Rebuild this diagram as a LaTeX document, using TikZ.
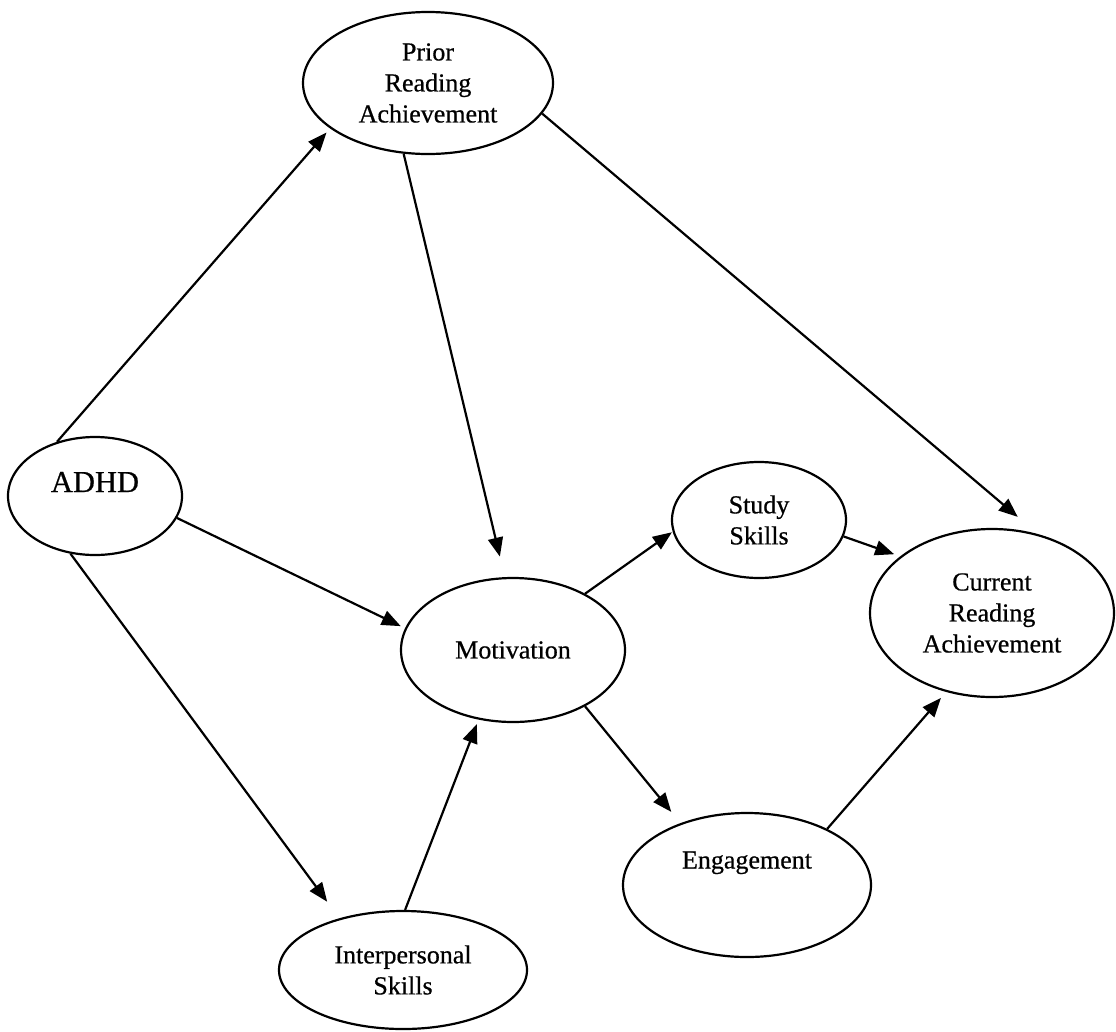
\documentclass[tikz,border=0pt]{standalone}
\usepackage{fontspec}
\setmainfont{Liberation Serif}[FakeBold=0.6]
\usetikzlibrary{shapes.geometric,arrows.meta,calc}
\begin{document}
\begin{tikzpicture}[x=1pt,y=-1pt,
  var/.style={draw,ellipse,line width=2.2pt,inner sep=0pt,align=center,
    font=\fontsize{26}{31}\selectfont},
  link/.style={line width=2.2pt,-{Triangle[length=19pt,width=15pt]}}]
\useasboundingbox (0,0) rectangle (1116,1031);
% variables
\node[var,minimum width=250pt,minimum height=142pt] (prior) at (428,83) {Prior\\Reading\\Achievement};
\node[var,minimum width=174pt,minimum height=118pt,font=\fontsize{30.5}{36}\selectfont] (adhd) at (95,496) {\raisebox{28pt}{ADHD}};
\node[var,minimum width=224pt,minimum height=144pt] (mot) at (513,650) {Motivation};
\node[var,minimum width=174pt,minimum height=116pt] (study) at (759,520) {Study\\Skills};
\node[var,minimum width=244pt,minimum height=168pt] (cur) at (992,613) {Current\\Reading\\Achievement};
\node[var,minimum width=248pt,minimum height=118pt] (inter) at (403,970) {Interpersonal\\Skills};
\node[var,minimum width=248pt,minimum height=144pt] (eng) at (747,885) {\raisebox{50pt}{Engagement}};
% paths
\draw[link] (adhd.125) -- ($(prior.center)!1.058!(prior.206)$);
\draw[link] (prior.251) -- ($(mot.center)!1.283!(mot.98)$);
\draw[link] (prior.345) -- ($(cur.center)!1.149!(cur.75)$);
\draw[link] (adhd.345) -- ($(mot.center)!1.045!(mot.168)$);
\draw[link] (adhd.247) -- ($(inter.center)!1.288!(inter.138)$);
\draw[link] (inter.88) -- ($(mot.center)!1.063!(mot.244)$);
\draw[link] (mot.38) -- ($(study.center)!1.01!(study.188)$);
\draw[link] (study.349) -- ($(cur.center)!1.053!(cur.149)$);
\draw[link] (mot.322) -- ($(eng.center)!1.169!(eng.136)$);
\draw[link] (eng.35) -- ($(cur.center)!1.081!(cur.239)$);
\end{tikzpicture}
\end{document}
